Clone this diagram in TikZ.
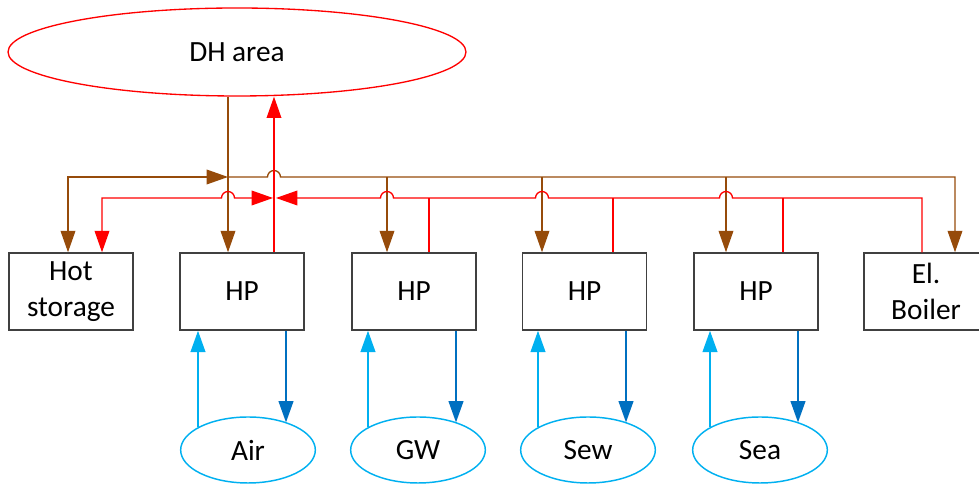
\documentclass[tikz,border=0pt]{standalone}
\usepackage{fontspec}
\setmainfont{Carlito}
\usetikzlibrary{arrows.meta,shapes.geometric}
\definecolor{brn}{RGB}{150,75,10}
\definecolor{lblue}{RGB}{0,176,240}
\definecolor{dblue}{RGB}{0,112,192}
\definecolor{boxc}{RGB}{64,64,64}
\begin{document}
\begin{tikzpicture}[x=0.75pt,y=0.75pt,
  font=\fontsize{22}{27}\selectfont,
  >={Triangle[length=16pt,width=11pt]},
  unitbox/.style={draw=boxc,line width=1.1pt,minimum width=93pt,minimum height=57.75pt,inner sep=0pt,align=center},
  srcell/.style={ellipse,draw=lblue,line width=1.1pt,minimum width=101pt,minimum height=49.5pt,inner sep=0pt},
  brownline/.style={draw=brn,line width=1pt},
  redline/.style={draw=red,line width=1pt},
  upline/.style={draw=lblue,line width=1.5pt,->},
  downline/.style={draw=dblue,line width=1.5pt,->}]
\useasboundingbox (0,0) rectangle (979,484);

% nodes
\node[ellipse,draw=red,line width=1pt,minimum width=343.5pt,minimum height=66pt,inner sep=0pt] (dh) at (237,432) {DH area};
\node[unitbox] (hs)  at (71,192.5)  {Hot\\storage};
\node[unitbox] (hp1) at (242,192.5) {HP};
\node[unitbox] (hp2) at (414,192.5) {HP};
\node[unitbox] (hp3) at (584.5,192.5) {HP};
\node[unitbox] (hp4) at (756,192.5) {HP};
\node[unitbox] (eb)  at (926,192.5) {El.\\Boiler};
\node[srcell] (air) at (248,34) {Air};
\node[srcell] (gw)  at (418,34) {GW};
\node[srcell] (sew) at (588,34) {Sew};
\node[srcell] (sea) at (760,34) {Sea};

% bus coordinates
\coordinate (b0) at (68,307);
\coordinate (b1) at (228,307);
\coordinate (b2) at (387,307);
\coordinate (b3) at (542,307);
\coordinate (b4) at (726,307);
\coordinate (b5) at (955,307);
\coordinate (r0) at (102,286);
\coordinate (r1) at (274,286);
\coordinate (r2) at (429,286);
\coordinate (r3) at (613,286);
\coordinate (r4) at (783,286);
\coordinate (r5) at (922,286);
% source line positions
\coordinate (u1) at (198,0);
\coordinate (u2) at (368,0);
\coordinate (u3) at (538,0);
\coordinate (u4) at (710,0);
\coordinate (d1) at (286,0);
\coordinate (d2) at (456,0);
\coordinate (d3) at (626,0);
\coordinate (d4) at (798,0);

% brown (supply) network
\draw[brownline,->] (b1 |- dh.south) -- (b1 |- hp1.north);
\draw[brownline,<->] (b0 |- hs.north) -- (b0) -- (b1);
\draw[brownline,->] (b1) -- (267.5,307) arc[start angle=180,end angle=0,radius=4.875pt] -- (b5) -- (b5 |- eb.north);
\draw[brownline,->] (b2) -- (b2 |- hp2.north);
\draw[brownline,->] (b3) -- (b3 |- hp3.north);
\draw[brownline,->] (b4) -- (b4 |- hp4.north);

% red (return) network
\draw[redline,->] (r1 |- hp1.north) -- (r1 |- dh.south);
\draw[redline,<->] (r0 |- hs.north) -- (r0) -- (221.5,286) arc[start angle=180,end angle=0,radius=4.875pt] -- (273,286);
\draw[redline,->] (r5 |- eb.north) -- (r5) -- (732.5,286) arc[start angle=0,end angle=180,radius=4.875pt]
   -- (548.5,286) arc[start angle=0,end angle=180,radius=4.875pt]
   -- (393.5,286) arc[start angle=0,end angle=180,radius=4.875pt] -- (276,286);
\draw[redline] (r2 |- hp2.north) -- (r2);
\draw[redline] (r3 |- hp3.north) -- (r3);
\draw[redline] (r4 |- hp4.north) -- (r4);

% sources
\draw[upline] (u1 |- air.156) -- (u1 |- hp1.south);
\draw[downline] (d1 |- hp1.south) -- (d1 |- air.35);
\draw[upline] (u2 |- gw.156) -- (u2 |- hp2.south);
\draw[downline] (d2 |- hp2.south) -- (d2 |- gw.35);
\draw[upline] (u3 |- sew.156) -- (u3 |- hp3.south);
\draw[downline] (d3 |- hp3.south) -- (d3 |- sew.35);
\draw[upline] (u4 |- sea.156) -- (u4 |- hp4.south);
\draw[downline] (d4 |- hp4.south) -- (d4 |- sea.35);
\end{tikzpicture}
\end{document}
